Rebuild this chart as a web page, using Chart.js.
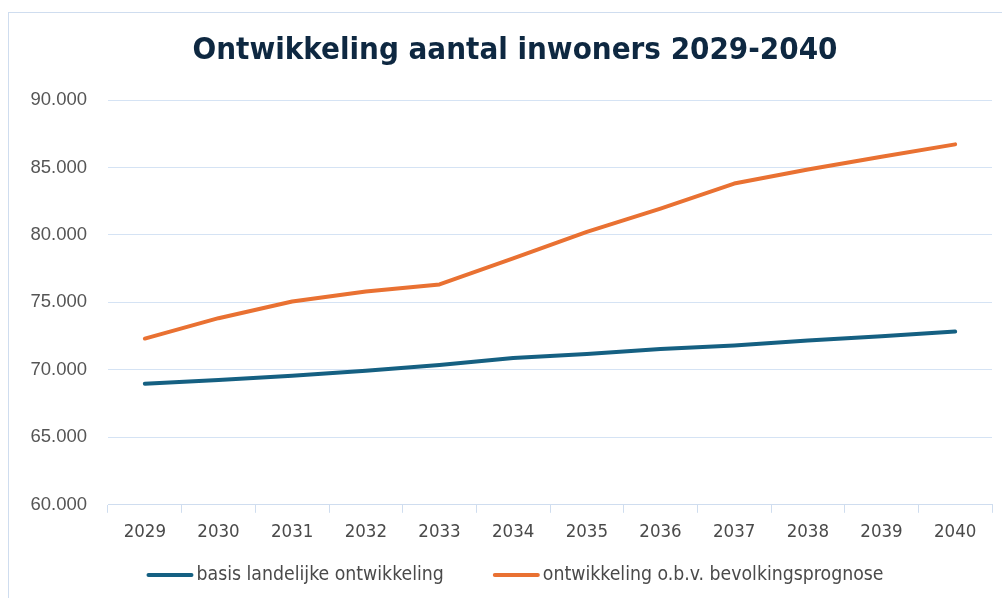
<!DOCTYPE html>
<html>
<head>
<meta charset="utf-8">
<script src="https://cdn.jsdelivr.net/npm/chart.js@4.4.1/dist/chart.umd.min.js"></script>
<style>
  html, body { margin: 0; padding: 0; background: #fff; }
  #wrap { position: relative; width: 1002px; height: 598px; overflow: hidden; }
  #frame { position: absolute; left: 8px; top: 12px; width: 1100px; height: 700px;
           border: 1px solid #CFDDEF; box-sizing: border-box; pointer-events: none; }
  canvas { position: absolute; left: 0; top: 0; }
</style>
</head>
<body>
<div id="wrap">
  <canvas id="c" width="1002" height="598"></canvas>
  <div id="frame"></div>
</div>
<script>
// Inwonersontwikkeling per jaar
const years = ['2029','2030','2031','2032','2033','2034','2035','2036','2037','2038','2039','2040'];
const basisLandelijk = [68980, 69250, 69570, 69940, 70360, 70880, 71180, 71550, 71800, 72170, 72490, 72840];
const bevolkingsprognose = [72320, 73830, 75070, 75800, 76330, 78260, 80220, 81950, 83810, 84850, 85790, 86710];
const yTicks = [60000, 65000, 70000, 75000, 80000, 85000, 90000];

const seriesNames = ['basis landelijke ontwikkeling', 'ontwikkeling o.b.v. bevolkingsprognose'];
const seriesColors = ['#156082', '#E97132'];

const NARROW = "'Liberation Sans Narrow', 'DejaVu Sans Condensed', Arial, sans-serif";
const tickFont = { family: "'Liberation Sans', Arial, sans-serif", size: 18.5 };
const xFont = { family: NARROW, size: 18.5 };
const legendFontSize = 19.3;
const textColor = '#4A4A4A';
const centerX = 515;

const fmt = v => v.toLocaleString('nl-NL');

// Legend drawn below the axis: short line sample followed directly by the series name
const bottomLegend = {
  id: 'bottomLegend',
  afterDraw(chart) {
    const ctx = chart.ctx;
    const y = 575;
    const sampleW = 47, gap = 3, itemGap = 49;
    ctx.save();
    ctx.font = legendFontSize + 'px ' + NARROW;
    const widths = seriesNames.map(n => ctx.measureText(n).width);
    let total = 0;
    widths.forEach((w, i) => { total += sampleW + gap + w + (i ? itemGap : 0); });
    let x = centerX - total / 2;
    ctx.textBaseline = 'middle';
    ctx.textAlign = 'left';
    seriesNames.forEach((name, i) => {
      ctx.strokeStyle = seriesColors[i];
      ctx.lineWidth = 4;
      ctx.lineCap = 'round';
      ctx.beginPath();
      ctx.moveTo(x + 2, y);
      ctx.lineTo(x + sampleW - 2, y);
      ctx.stroke();
      ctx.fillStyle = textColor;
      ctx.fillText(name, x + sampleW + gap, y);
      x += sampleW + gap + widths[i] + itemGap;
    });
    ctx.restore();
  }
};

// Title centred over the frame
const frameTitle = {
  id: 'frameTitle',
  afterDraw(chart) {
    const ctx = chart.ctx;
    ctx.save();
    ctx.font = 'bold 31px ' + NARROW;
    ctx.fillStyle = '#0E2841';
    ctx.textAlign = 'center';
    ctx.textBaseline = 'middle';
    ctx.fillText('Ontwikkeling aantal inwoners 2029-2040', centerX, 51);
    ctx.restore();
  }
};

new Chart(document.getElementById('c'), {
  type: 'line',
  data: {
    labels: years,
    datasets: [
      { label: seriesNames[0], data: basisLandelijk, borderColor: seriesColors[0], backgroundColor: seriesColors[0],
        borderWidth: 4, pointRadius: 0, tension: 0, borderCapStyle: 'round', borderJoinStyle: 'round' },
      { label: seriesNames[1], data: bevolkingsprognose, borderColor: seriesColors[1], backgroundColor: seriesColors[1],
        borderWidth: 4, pointRadius: 0, tension: 0, borderCapStyle: 'round', borderJoinStyle: 'round' }
    ]
  },
  plugins: [bottomLegend, frameTitle],
  options: {
    responsive: false,
    animation: false,
    layout: { padding: { left: 8, right: 10, top: 100, bottom: 47 } },
    plugins: {
      title: { display: false },
      legend: { display: false },
      tooltip: { enabled: false }
    },
    scales: {
      x: {
        offset: true,
        grid: { offset: true, drawOnChartArea: false, color: '#CFDDEF', tickLength: 8, lineWidth: 1 },
        border: { color: '#CFDDEF' },
        ticks: { color: textColor, font: xFont, padding: 8, maxRotation: 0 }
      },
      y: {
        min: 60000,
        max: 90000,
        afterBuildTicks: s => { s.ticks = yTicks.map(v => ({ value: v })); },
        afterFit: s => { s.width = 100; },
        grid: { color: '#D5E3F4', lineWidth: 1, drawTicks: false },
        border: { display: false },
        ticks: { color: '#555555', font: tickFont, padding: 21, callback: v => fmt(v) }
      }
    }
  }
});
</script>
</body>
</html>
